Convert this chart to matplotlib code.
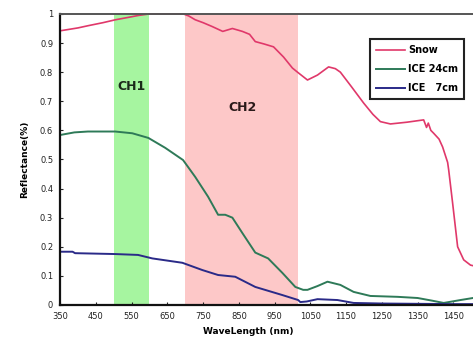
import matplotlib

matplotlib.use("Agg")
import matplotlib.pyplot as plt

# spectral reflectance
snow_nm = [350, 400, 430, 470, 505, 540, 570, 600, 650, 695, 710, 728, 750, 775,
           805, 832, 860, 880, 896, 920, 947, 975, 1000, 1014, 1042, 1070, 1101,
           1120, 1134, 1165, 1199, 1225, 1246, 1274, 1320, 1367, 1375, 1380, 1387,
           1395, 1410, 1420, 1434, 1437, 1448, 1462, 1479, 1498, 1505]
snow = [0.942, 0.952, 0.96, 0.97, 0.98, 0.988, 0.995, 1.0, 1.0, 1.0, 0.993, 0.98,
        0.97, 0.957, 0.94, 0.95, 0.94, 0.93, 0.905, 0.897, 0.887, 0.852, 0.814,
        0.80, 0.773, 0.79, 0.818, 0.812, 0.80, 0.75, 0.694, 0.655, 0.63, 0.622,
        0.628, 0.636, 0.61, 0.625, 0.60, 0.59, 0.57, 0.543, 0.49, 0.464, 0.35,
        0.2, 0.155, 0.137, 0.135]

ice24_nm = [350, 390, 428, 504, 552, 597, 644, 694, 728, 764, 792, 812, 832, 860,
            896, 932, 972, 1008, 1030, 1042, 1070, 1098, 1134, 1171, 1218, 1294,
            1350, 1390, 1423, 1470, 1505]
ice24 = [0.584, 0.593, 0.596, 0.596, 0.59, 0.574, 0.54, 0.498, 0.44, 0.372, 0.31,
         0.31, 0.30, 0.247, 0.18, 0.16, 0.11, 0.062, 0.052, 0.052, 0.065, 0.08,
         0.069, 0.045, 0.031, 0.028, 0.024, 0.015, 0.007, 0.017, 0.024]

ice7_nm = [350, 385, 392, 504, 568, 608, 692, 748, 792, 840, 896, 972, 1016, 1022,
           1040, 1070, 1126, 1171, 1250, 1350, 1450, 1505]
ice7 = [0.183, 0.183, 0.178, 0.175, 0.172, 0.16, 0.145, 0.12, 0.103, 0.097, 0.062,
        0.034, 0.017, 0.01, 0.012, 0.02, 0.017, 0.007, 0.005, 0.004, 0.003, 0.003]

ch1 = (500, 600)
ch2 = (700, 1015)
xticks = [350, 450, 550, 650, 750, 850, 950, 1050, 1150, 1250, 1350, 1450]
yticks = [0, 0.1, 0.2, 0.3, 0.4, 0.5, 0.6, 0.7, 0.8, 0.9, 1]
ytick_labels = ["0", "0.1", "0.2", "0.3", "0.4", "0.5", "0.6", "0.7", "0.8", "0.9", "1"]

fig = plt.figure(figsize=(4.73, 3.40), dpi=100)
ax = fig.add_axes([0.127, 0.103, 0.873, 0.856])

ax.axvspan(*ch1, color="#a6f5a0", lw=0)
ax.axvspan(*ch2, color="#fdc8c8", lw=0)
ax.text(sum(ch1) / 2, 0.75, "CH1", ha="center", va="center",
        fontsize=9, fontweight="bold", color="#1a2a1a")
ax.text(860, 0.68, "CH2", ha="center", va="center",
        fontsize=9, fontweight="bold", color="#2a1a1a")

ax.plot(snow_nm, snow, color="#e0386a", lw=1.2, label="Snow", clip_on=False)
ax.plot(ice24_nm, ice24, color="#2e7a58", lw=1.4, label="ICE 24cm")
ax.plot(ice7_nm, ice7, color="#2a2a88", lw=1.4, label="ICE   7cm")

ax.set_xlim(350, 1505)
ax.set_ylim(0, 1)
ax.set_xticks(xticks)
ax.set_xticklabels([str(v) for v in xticks])
ax.set_yticks(yticks)
ax.set_yticklabels(ytick_labels)
ax.tick_params(direction="in", length=2.5, width=0.8, labelsize=6, pad=5,
               colors="#222222")

for side in ("left", "bottom"):
    ax.spines[side].set_linewidth(1.6)
    ax.spines[side].set_color("#111111")
ax.spines["top"].set_linewidth(1.4)
ax.spines["top"].set_color("#555555")
ax.spines["right"].set_visible(False)

ax.set_xlabel("WaveLength (nm)", fontsize=6.5, fontweight="bold", labelpad=3)
ax.xaxis.set_label_coords(0.455, -0.075)
ax.set_ylabel("Reflectance(%)", fontsize=6.5, fontweight="bold", labelpad=8)

leg = ax.legend(loc="upper right", bbox_to_anchor=(0.99, 0.93),
                prop={"weight": "bold", "size": 7}, fancybox=False,
                framealpha=1, handlelength=3, handletextpad=0.3,
                labelspacing=0.95, borderpad=0.6)
leg.get_frame().set_edgecolor("#222222")
leg.get_frame().set_linewidth(1.5)

fig.savefig("out.png", dpi=100)
